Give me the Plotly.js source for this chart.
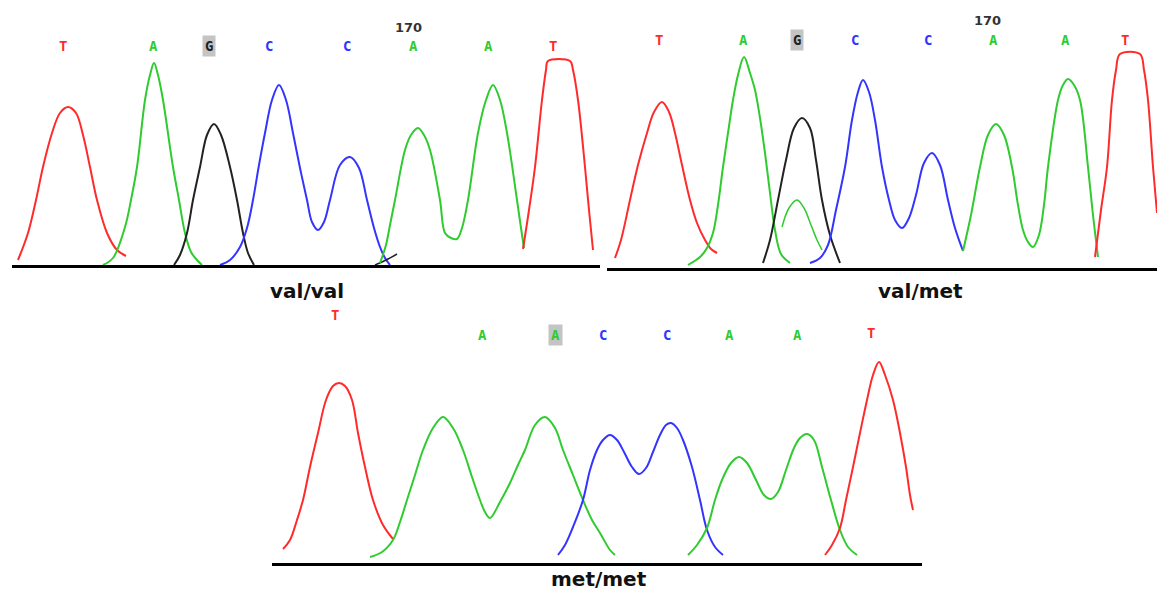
<!DOCTYPE html>
<html>
<head>
<meta charset="utf-8">
<script src="https://cdn.plot.ly/plotly-3.0.1.min.js"></script>
<style>html,body{margin:0;padding:0;background:#fff;}#chart{width:1157px;height:592px;}</style>
</head>
<body>
<div id="chart"></div>
<script>
// ---------- DATA (scan position, signal intensity) ----------
// Panel 1: val/val
const p1_T1_scan = [18,28,36,43,52,60,68,76,83,90,97,107,117,126];
const p1_T1_sig  = [5,32,65,98,132,152,158,152,130,98,65,32,15,9];
const p1_A1_scan = [103,113,125,131,137,145,150,154,158,163,173,179,185,191,197,202];
const p1_A1_sig  = [0,7,38,65,98,165,190,202,190,165,98,65,32,13,5,0];
const p1_G_scan  = [174,180,187,193,200,207,214,221,230,237,243,248,254];
const p1_G_sig   = [0,10,32,65,98,130,141,130,98,65,32,12,0];
const p1_CC_scan = [220,230,240,247,253,259,265,272,279,286,293,300,307,312,318,324,330,340,350,359,367,374,380,385,390];
const p1_CC_sig  = [0,5,18,37,65,100,132,165,180,165,132,97,65,43,35,43,65,100,108,97,65,37,18,7,0];
const p1_Gtail_scan = [375,386,397];
const p1_Gtail_sig  = [0,5,11];
const p1_AA_scan = [380,386,390,395,405,411,418,424,430,440,445,451,457,462,468,478,486,493,500,507,517,521,524];
const p1_AA_sig  = [2,20,40,65,115,130,137,130,115,65,32,27,26,37,65,132,165,180,165,132,65,37,17];
const p1_T2_scan = [523,529,535,542,546,548,570,573,578,585,589,593];
const p1_T2_sig  = [16,55,98,165,195,204,204,195,165,98,55,15];
const p1_bases     = ['T','A','G','C','C','A','A','T'];
const p1_base_scan = [63,153,209,269,347,413,488,553];
const p1_base_sig  = 219;

// Panel 2: val/met
const p2_T1_scan = [615,621,630,638,647,654,662,669,675,682,690,697,705,711,717];
const p2_T1_sig  = [10,28,68,103,135,156,166,156,135,103,68,45,28,19,15];
const p2_A1_scan = [688,700,707,713,718,723,728,733,738,744,750,755,760,765,770,775,781,790];
const p2_A1_sig  = [3,11,20,35,63,101,135,168,193,211,195,178,150,115,75,38,14,5];
const p2_Amin_scan = [782,789,797,804,811,817,822];
const p2_Amin_sig  = [41,60,68,60,43,28,18];
const p2_G_scan  = [763,770,778,786,794,802,810,816,822,830,840];
const p2_G_sig   = [5,28,68,108,140,150,140,108,68,33,5];
const p2_CC_scan = [810,820,828,836,845,852,858,863,869,875,882,889,895,902,909,916,924,932,940,948,955,963];
const p2_CC_sig  = [5,10,23,58,101,148,176,188,176,148,101,68,48,40,50,73,105,115,103,68,40,17];
const p2_AA_scan = [963,971,980,988,996,1004,1012,1018,1023,1028,1033,1039,1044,1048,1058,1063,1068,1074,1080,1088,1093,1098];
const p2_AA_sig  = [17,53,101,133,144,133,101,63,38,26,21,33,63,101,168,183,189,183,168,101,53,11];
const p2_T2_scan = [1095,1101,1107,1112,1116,1120,1140,1144,1148,1153,1157];
const p2_T2_sig  = [11,58,101,168,198,214,214,198,168,101,55];
const p2_bases     = ['T','A','G','C','C','A','A','T'];
const p2_base_scan = [659,743,797,855,928,993,1065,1125];
const p2_base_sig  = 228;

// Panel 3: met/met
const p3_T1_scan = [283,290,297,303,310,318,326,333,339,345,352,358,365,373,383,393];
const p3_T1_sig  = [14,23,43,63,96,130,163,177,180,177,163,130,96,63,38,24];
const p3_AA1_scan = [370,382,393,400,407,415,423,433,443,453,463,472,480,485,490,500,510,518,525,535,545,555,563,573,583,592,600,610,615];
const p3_AA1_sig  = [6,11,23,41,63,88,113,135,146,135,113,86,63,51,45,61,80,98,113,138,146,135,113,88,63,43,30,13,8];
const p3_CC_scan = [558,565,573,583,590,597,603,610,617,624,632,639,646,653,660,666,671,677,683,692,700,707,715,723];
const p3_CC_sig  = [8,18,36,63,93,113,123,128,123,111,96,89,95,111,128,138,140,135,123,96,63,33,16,8];
const p3_AA2_scan = [688,697,707,715,722,731,739,747,756,764,771,778,786,794,800,807,814,822,831,840,848,857];
const p3_AA2_sig  = [8,18,35,63,83,100,106,100,83,68,64,71,93,115,125,129,123,96,63,33,16,8];
const p3_T2_scan = [825,832,840,846,853,860,867,873,879,885,893,900,906,910,913];
const p3_T2_sig  = [8,18,35,63,96,130,163,188,201,188,163,130,96,68,53];
const p3_bases     = ['T','A','A','C','C','A','A','T'];
const p3_base_scan = [335,482,555,603,667,729,797,871];
const p3_base_sig  = [248,228,228,228,228,228,228,230];

const marker_label = '170';
const p1_marker_scan = 408, p1_marker_sig = 238;
const p2_marker_scan = 987, p2_marker_sig = 248;
const genotypes = ['val/val','val/met','met/met'];
const highlighted = [2, 2, 2]; // index of highlighted (grey-boxed) base in each panel

// ---------- STYLE ----------
const COL = {T:'#ff2b2b', A:'#2fcb2f', G:'#222222', C:'#3434ff'};
const W = 1157, H = 592;

function tr(x, y, base, ax, width) {
  return {x:x, y:y, type:'scatter', mode:'lines', xaxis:'x'+ax, yaxis:'y'+ax,
    line:{color:COL[base], width:width||2, shape:'spline', smoothing:1.0},
    hoverinfo:'skip', showlegend:false, cliponaxis:false};
}

const traces = [
  tr(p1_T1_scan,p1_T1_sig,'T',''), tr(p1_A1_scan,p1_A1_sig,'A',''), tr(p1_G_scan,p1_G_sig,'G',''),
  tr(p1_CC_scan,p1_CC_sig,'C',''), tr(p1_Gtail_scan,p1_Gtail_sig,'G','',1.5), tr(p1_AA_scan,p1_AA_sig,'A',''),
  tr(p1_T2_scan,p1_T2_sig,'T',''),
  tr(p2_T1_scan,p2_T1_sig,'T','2'), tr(p2_A1_scan,p2_A1_sig,'A','2'), tr(p2_G_scan,p2_G_sig,'G','2'),
  tr(p2_Amin_scan,p2_Amin_sig,'A','2',1.5), tr(p2_CC_scan,p2_CC_sig,'C','2'), tr(p2_AA_scan,p2_AA_sig,'A','2'),
  tr(p2_T2_scan,p2_T2_sig,'T','2'),
  tr(p3_T1_scan,p3_T1_sig,'T','3'), tr(p3_AA1_scan,p3_AA1_sig,'A','3'), tr(p3_CC_scan,p3_CC_sig,'C','3'),
  tr(p3_AA2_scan,p3_AA2_sig,'A','3'), tr(p3_T2_scan,p3_T2_sig,'T','3')
];

const annotations = [];
function addBases(bases, scans, sigs, ax, hi) {
  bases.forEach((b,i) => {
    annotations.push({text:b, x:scans[i], y:Array.isArray(sigs)?sigs[i]:sigs,
      xref:'x'+ax, yref:'y'+ax, showarrow:false, xanchor:'center', yanchor:'middle',
      font:{family:'DejaVu Sans Mono, Liberation Mono, monospace', size:14, color:COL[b], weight:'bold'},
      bgcolor: i===hi ? '#c4c4c4' : 'rgba(0,0,0,0)', borderpad: i===hi ? 2 : 0});
  });
}
addBases(p1_bases, p1_base_scan, p1_base_sig, '', highlighted[0]);
addBases(p2_bases, p2_base_scan, p2_base_sig, '2', highlighted[1]);
addBases(p3_bases, p3_base_scan, p3_base_sig, '3', highlighted[2]);

const markFont = {family:'DejaVu Sans, sans-serif', size:13, color:'#333', weight:'bold'};
annotations.push({text:marker_label, x:p1_marker_scan, y:p1_marker_sig, xref:'x', yref:'y', showarrow:false,
  xanchor:'center', yanchor:'middle', font:markFont});
annotations.push({text:marker_label, x:p2_marker_scan, y:p2_marker_sig, xref:'x2', yref:'y2', showarrow:false,
  xanchor:'center', yanchor:'middle', font:markFont});

const labelFont = {family:'DejaVu Sans, sans-serif', size:20, color:'#111', weight:'bold'};
const labelPos = [[307,291],[920,291],[599,579]];
genotypes.forEach((g,i) => annotations.push({text:g, x:labelPos[i][0]/W, y:1-labelPos[i][1]/H,
  xref:'paper', yref:'paper', showarrow:false, xanchor:'center', yanchor:'middle', font:labelFont}));

function xa(d0,d1,r0,r1,anchor){ return {domain:[d0/W,d1/W], range:[r0,r1], anchor:anchor,
  showgrid:false, zeroline:false, showticklabels:false, ticks:'', showline:true, linecolor:'#000', linewidth:3, fixedrange:true}; }
function ya(b,t,r1,anchor){ return {domain:[1-b/H,1-t/H], range:[0,r1], anchor:anchor,
  showgrid:false, zeroline:false, showticklabels:false, ticks:'', showline:false, fixedrange:true}; }

const layout = {
  width:W, height:H, margin:{l:0,r:0,t:0,b:0},
  paper_bgcolor:'#fff', plot_bgcolor:'rgba(0,0,0,0)',
  xaxis: xa(12,600,12,600,'y'),   yaxis: ya(265,0,265,'x'),
  xaxis2: xa(607,1157,607,1157,'y2'), yaxis2: ya(268,0,268,'x2'),
  xaxis3: xa(272,922,272,922,'y3'), yaxis3: ya(563,300,263,'x3'),
  annotations: annotations
};

Plotly.newPlot('chart', traces, layout, {staticPlot:true, displayModeBar:false});
</script>
</body>
</html>
